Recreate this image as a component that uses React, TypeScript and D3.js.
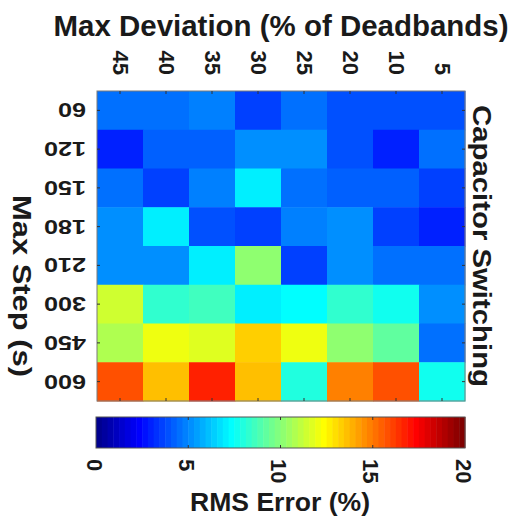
import React from "react";
import * as d3 from "d3";

const columns = ["45", "40", "35", "30", "25", "20", "10", "5"];
const rows = ["60", "120", "150", "180", "210", "300", "450", "600"];
// RMS error (%) by row (Max Step) and column (Max Deviation)
const r60 = [4.5, 4.5, 4.85, 3.45, 4.5, 4.05, 3.9, 3.75];
const r120 = [2.95, 4.2, 4.2, 5.15, 5.15, 4.0, 3.1, 4.5];
const r150 = [4.5, 3.45, 4.7, 7.05, 4.4, 4.25, 4.25, 3.6];
const r180 = [5.0, 6.9, 4.05, 3.45, 4.7, 5.15, 3.45, 2.95];
const r210 = [5.0, 5.0, 7.0, 10.0, 3.45, 5.15, 4.5, 4.4];
const r300 = [11.25, 8.3, 8.45, 7.0, 7.4, 8.4, 7.6, 5.0];
const r450 = [10.8, 12.05, 11.7, 13.25, 11.9, 10.2, 9.25, 4.4];
const r600 = [15.75, 13.6, 16.7, 13.6, 8.1, 14.85, 15.75, 7.8];
const values = [r60, r120, r150, r180, r210, r300, r450, r600];
const colorTicks = [0, 5, 10, 15, 20];
const colorDomain = [0, 20];

const FONT = "'Liberation Sans', Arial, sans-serif";

// MATLAB jet(64)
const JET: string[] = (() => {
  const m = 64;
  const n = 16;
  const u: number[] = [];
  for (let i = 1; i <= n; i++) u.push(i / n);
  for (let i = 1; i < n; i++) u.push(1);
  for (let i = n; i >= 1; i--) u.push(i / n);
  const out: number[][] = d3.range(m).map(() => [0, 0, 0]);
  const g0 = Math.ceil(n / 2) - (m % 4 === 1 ? 1 : 0);
  u.forEach((val, k) => {
    const g = g0 + k + 1;
    const r = g + n;
    const b = g - n;
    if (g >= 1 && g <= m) out[g - 1][1] = val;
    if (r >= 1 && r <= m) out[r - 1][0] = val;
    if (b >= 1 && b <= m) out[b - 1][2] = val;
  });
  return out.map(([r, g, b]) => d3.rgb(r * 255, g * 255, b * 255).formatHex());
})();

function jet(t: number): string {
  const i = Math.max(0, Math.min(63, Math.floor(t * 64)));
  return JET[i];
}

export default function App() {
  const W = 516, H = 517;
  const x = d3.scaleBand<string>().domain(columns).range([97, 465]);
  const y = d3.scaleBand<string>().domain(rows).range([91, 401]);
  const norm = d3.scaleLinear().domain(colorDomain).range([0, 1]).clamp(true);
  const cb = d3.scaleLinear().domain(colorDomain).range([96, 465]);
  const cbTop = 417, cbBot = 448;
  const nSteps = 64;
  const steps = d3.range(nSteps);

  return (
    <svg width={W} height={H} style={{ position: "absolute", left: 0, top: 0, background: "#fff" }} fontFamily={FONT}>
      <text x={281} y={36} textAnchor="middle" fontSize={29} fontWeight="bold" fill="#1a1a1a" textLength={455} lengthAdjust="spacingAndGlyphs">
        Max Deviation (% of Deadbands)
      </text>
      {values.map((row, ri) =>
        row.map((v, ci) => (
          <rect
            key={`${ri}-${ci}`}
            x={x(columns[ci])!}
            y={y(rows[ri])!}
            width={x.bandwidth() + 0.5}
            height={y.bandwidth() + 0.5}
            fill={jet(norm(v))}
          />
        ))
      )}
      <rect x={97} y={91} width={368} height={310} fill="none" stroke="#7a7a7a" strokeWidth={1} />
      {columns.map((c) => {
        const cx = x(c)! + x.bandwidth() / 2;
        return (
          <g key={c}>
            <line x1={cx} x2={cx} y1={91} y2={94} stroke="#333" />
            <line x1={cx} x2={cx} y1={401} y2={398} stroke="#333" />
            <text
              transform={`translate(${cx},75) rotate(90)`}
              textAnchor="end"
              dominantBaseline="central"
              fontSize={22}
              fontWeight="bold"
              fill="#1a1a1a"
            >
              {c}
            </text>
          </g>
        );
      })}
      {rows.map((r) => {
        const cy = y(r)! + y.bandwidth() / 2;
        return (
          <g key={r}>
            <line x1={97} x2={100} y1={cy} y2={cy} stroke="#333" />
            <line x1={465} x2={462} y1={cy} y2={cy} stroke="#333" />
            <text
              transform={`translate(86,${cy}) rotate(180)`}
              textAnchor="start"
              dominantBaseline="central"
              fontSize={20}
              fontWeight="bold"
              fill="#1a1a1a"
              textLength={r.length * 14}
              lengthAdjust="spacingAndGlyphs"
            >
              {r}
            </text>
          </g>
        );
      })}
      <text
        transform="translate(22,286) rotate(90)"
        textAnchor="middle"
        dominantBaseline="central"
        fontSize={26}
        fontWeight="bold"
        fill="#1a1a1a"
        textLength={182}
        lengthAdjust="spacingAndGlyphs"
      >
        Max Step (s)
      </text>
      <text
        transform="translate(482,246) rotate(90)"
        textAnchor="middle"
        dominantBaseline="central"
        fontSize={25}
        fontWeight="bold"
        fill="#1a1a1a"
        textLength={282}
        lengthAdjust="spacingAndGlyphs"
      >
        Capacitor Switching
      </text>
      {steps.map((i) => {
        const v0 = colorDomain[0] + (i / nSteps) * (colorDomain[1] - colorDomain[0]);
        const v1 = colorDomain[0] + ((i + 1) / nSteps) * (colorDomain[1] - colorDomain[0]);
        return (
          <rect key={i} x={cb(v0)} y={cbTop} width={cb(v1) - cb(v0) + 0.5} height={cbBot - cbTop} fill={jet((i + 0.5) / nSteps)} />
        );
      })}
      <rect x={96} y={cbTop} width={369} height={cbBot - cbTop} fill="none" stroke="#555" strokeWidth={1} />
      {colorTicks.map((t) => (
        <g key={t}>
          {t > colorDomain[0] && t < colorDomain[1] && (
            <>
              <line x1={cb(t)} x2={cb(t)} y1={cbBot} y2={cbBot - 3} stroke="#333" />
              <line x1={cb(t)} x2={cb(t)} y1={cbTop} y2={cbTop + 3} stroke="#333" />
            </>
          )}
          <text
            transform={`translate(${cb(t) - 2},459) rotate(90)`}
            textAnchor="start"
            dominantBaseline="central"
            fontSize={22}
            fontWeight="bold"
            fill="#1a1a1a"
          >
            {t}
          </text>
        </g>
      ))}
      <text x={280} y={511} textAnchor="middle" fontSize={26} fontWeight="bold" fill="#1a1a1a" textLength={180} lengthAdjust="spacingAndGlyphs">
        RMS Error (%)
      </text>
    </svg>
  );
}
